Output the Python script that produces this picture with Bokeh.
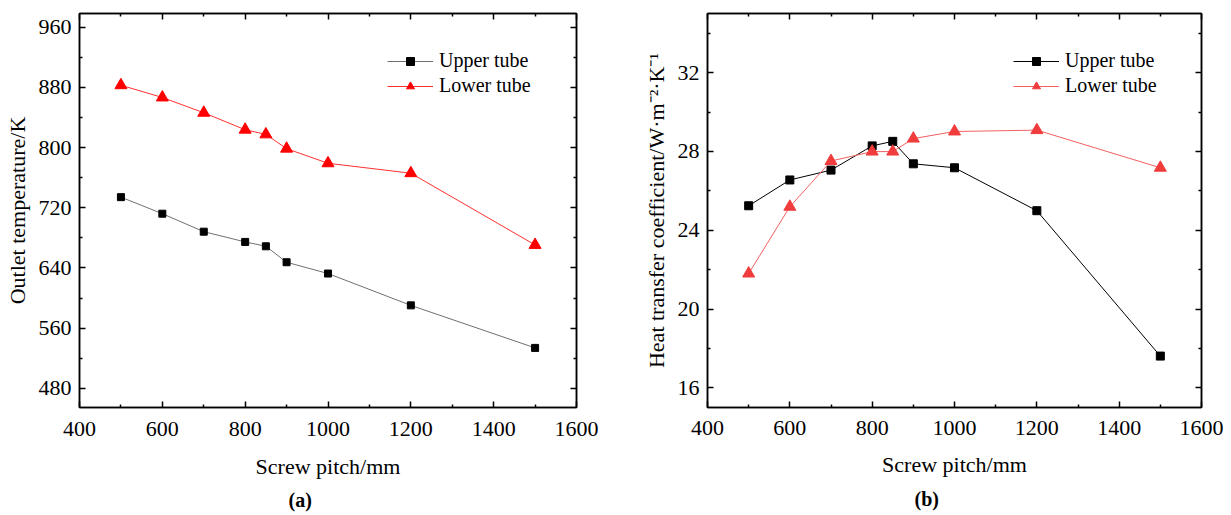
from bokeh.plotting import figure
from bokeh.layouts import row
from bokeh.models import LinearAxis, FixedTicker, CustomJSTickFormatter, Title, Range1d
from bokeh.embed import file_html
from bokeh.resources import INLINE

# ---- data ----
pitch = [500, 600, 700, 800, 850, 900, 1000, 1200, 1500]
temp_upper = [734.1, 712.1, 688.2, 674.6, 668.8, 647.6, 632.6, 590.3, 533.8]
temp_lower = [882.8, 866.5, 846.2, 823.7, 817.5, 798.5, 779.1, 765.9, 670.6]
htc_upper = [25.24, 26.55, 27.05, 28.28, 28.51, 27.37, 27.17, 24.99, 17.61]
htc_lower = [21.80, 25.19, 27.51, 27.99, 27.99, 28.65, 29.01, 29.08, 27.17]

x_ticks = [400, 600, 800, 1000, 1200, 1400, 1600]
x_minor = [500, 700, 900, 1100, 1300, 1500]
temp_ticks = [480, 560, 640, 720, 800, 880, 960]
temp_minor = [520, 600, 680, 760, 840, 920]
htc_ticks = [16, 20, 24, 28, 32]
htc_minor = [18, 22, 26, 30, 34]

FONT = "Liberation Serif"


def style_axis(ax, labels=True):
    ax.axis_line_color = "black"
    ax.axis_line_width = 1.5
    ax.major_tick_in = 6
    ax.major_tick_out = 0
    ax.minor_tick_in = 3
    ax.minor_tick_out = 0
    ax.major_tick_line_color = "black"
    ax.major_tick_line_width = 1.5
    ax.minor_tick_line_color = "black"
    ax.minor_tick_line_width = 1.5
    ax.major_label_text_font = FONT
    ax.major_label_text_color = "black"
    ax.axis_label_text_font = FONT
    ax.axis_label_text_font_style = "normal"
    ax.axis_label_text_color = "black"
    if labels:
        ax.major_label_text_font_size = "22px"
        ax.axis_label_text_font_size = "22px"
    else:
        ax.formatter = CustomJSTickFormatter(code="return ''")
        ax.major_label_text_font_size = "1px"
        ax.major_label_standoff = 0


def make_panel(width, borders, y_rng, y_ticks, y_minor, y_label,
               series, caption, cap_offset, legend_loc, x_std):
    bl, br, bt, bb = borders
    p = figure(width=width, height=515, output_backend="svg", toolbar_location=None,
               x_range=Range1d(400, 1600), y_range=Range1d(*y_rng),
               min_border_left=bl, min_border_right=br, min_border_top=bt,
               min_border_bottom=bb, background_fill_color="white",
               border_fill_color="white")
    p.outline_line_color = "black"
    p.outline_line_width = 1.5
    p.grid.visible = False

    xt = FixedTicker(ticks=x_ticks, minor_ticks=x_minor)
    yt = FixedTicker(ticks=y_ticks, minor_ticks=y_minor)
    p.xaxis.ticker = xt
    p.yaxis.ticker = yt
    for ax in p.xaxis + p.yaxis:
        style_axis(ax)
    p.xaxis.axis_label = "Screw pitch/mm"
    p.yaxis.axis_label = y_label
    p.xaxis.major_label_standoff = x_std[0]
    p.xaxis.axis_label_standoff = x_std[1]
    p.yaxis.major_label_standoff = 8
    p.yaxis.axis_label_standoff = 6

    top = LinearAxis(ticker=FixedTicker(ticks=x_ticks, minor_ticks=x_minor))
    right = LinearAxis(ticker=FixedTicker(ticks=y_ticks, minor_ticks=y_minor))
    style_axis(top, labels=False)
    style_axis(right, labels=False)
    p.add_layout(top, "above")
    p.add_layout(right, "right")

    for (vals, name, line_col, mk_col, marker, size) in series:
        p.line(pitch, vals, line_color=line_col, line_width=1, legend_label=name)
        p.scatter(pitch, vals, marker=marker, size=size, fill_color=mk_col,
                  line_color=mk_col, legend_label=name)

    lg = p.legend[0]
    lg.location = legend_loc
    lg.padding = 0
    lg.margin = 0
    lg.spacing = 2
    lg.glyph_width = 46
    lg.glyph_height = 20
    lg.label_height = 20
    lg.label_standoff = 6
    lg.label_text_font = FONT
    lg.label_text_font_size = "20px"
    lg.label_text_color = "black"
    lg.background_fill_alpha = 0
    lg.border_line_alpha = 0

    cap = Title(text=caption, align="left", offset=cap_offset, text_font=FONT,
                text_font_size="20px", text_font_style="bold", text_color="black",
                standoff=x_std[2])
    p.add_layout(cap, "below")
    return p


p1 = make_panel(
    616, (79, 40, 13, 102), (454.6, 978.1), temp_ticks, temp_minor,
    "Outlet temperature/K",
    [(temp_upper, "Upper tube", "#707070", "black", "square", 7),
     (temp_lower, "Lower tube", "#FF3030", "#FF0000", "triangle", 12)],
    "(a)", 209, (308, 310), (14, 15, 10))

p2 = make_panel(
    615, (91, 30, 12, 106), (15, 35), htc_ticks, htc_minor,
    "Heat transfer coefficient/W·m⁻²·K⁻¹",
    [(htc_upper, "Upper tube", "black", "black", "square", 8),
     (htc_lower, "Lower tube", "#F26060", "#F03C3C", "triangle", 12)],
    "(b)", 207, (306, 310), (13, 14, 12))

layout = row(p1, p2)
open("out.html", "w").write(file_html(layout, INLINE))
